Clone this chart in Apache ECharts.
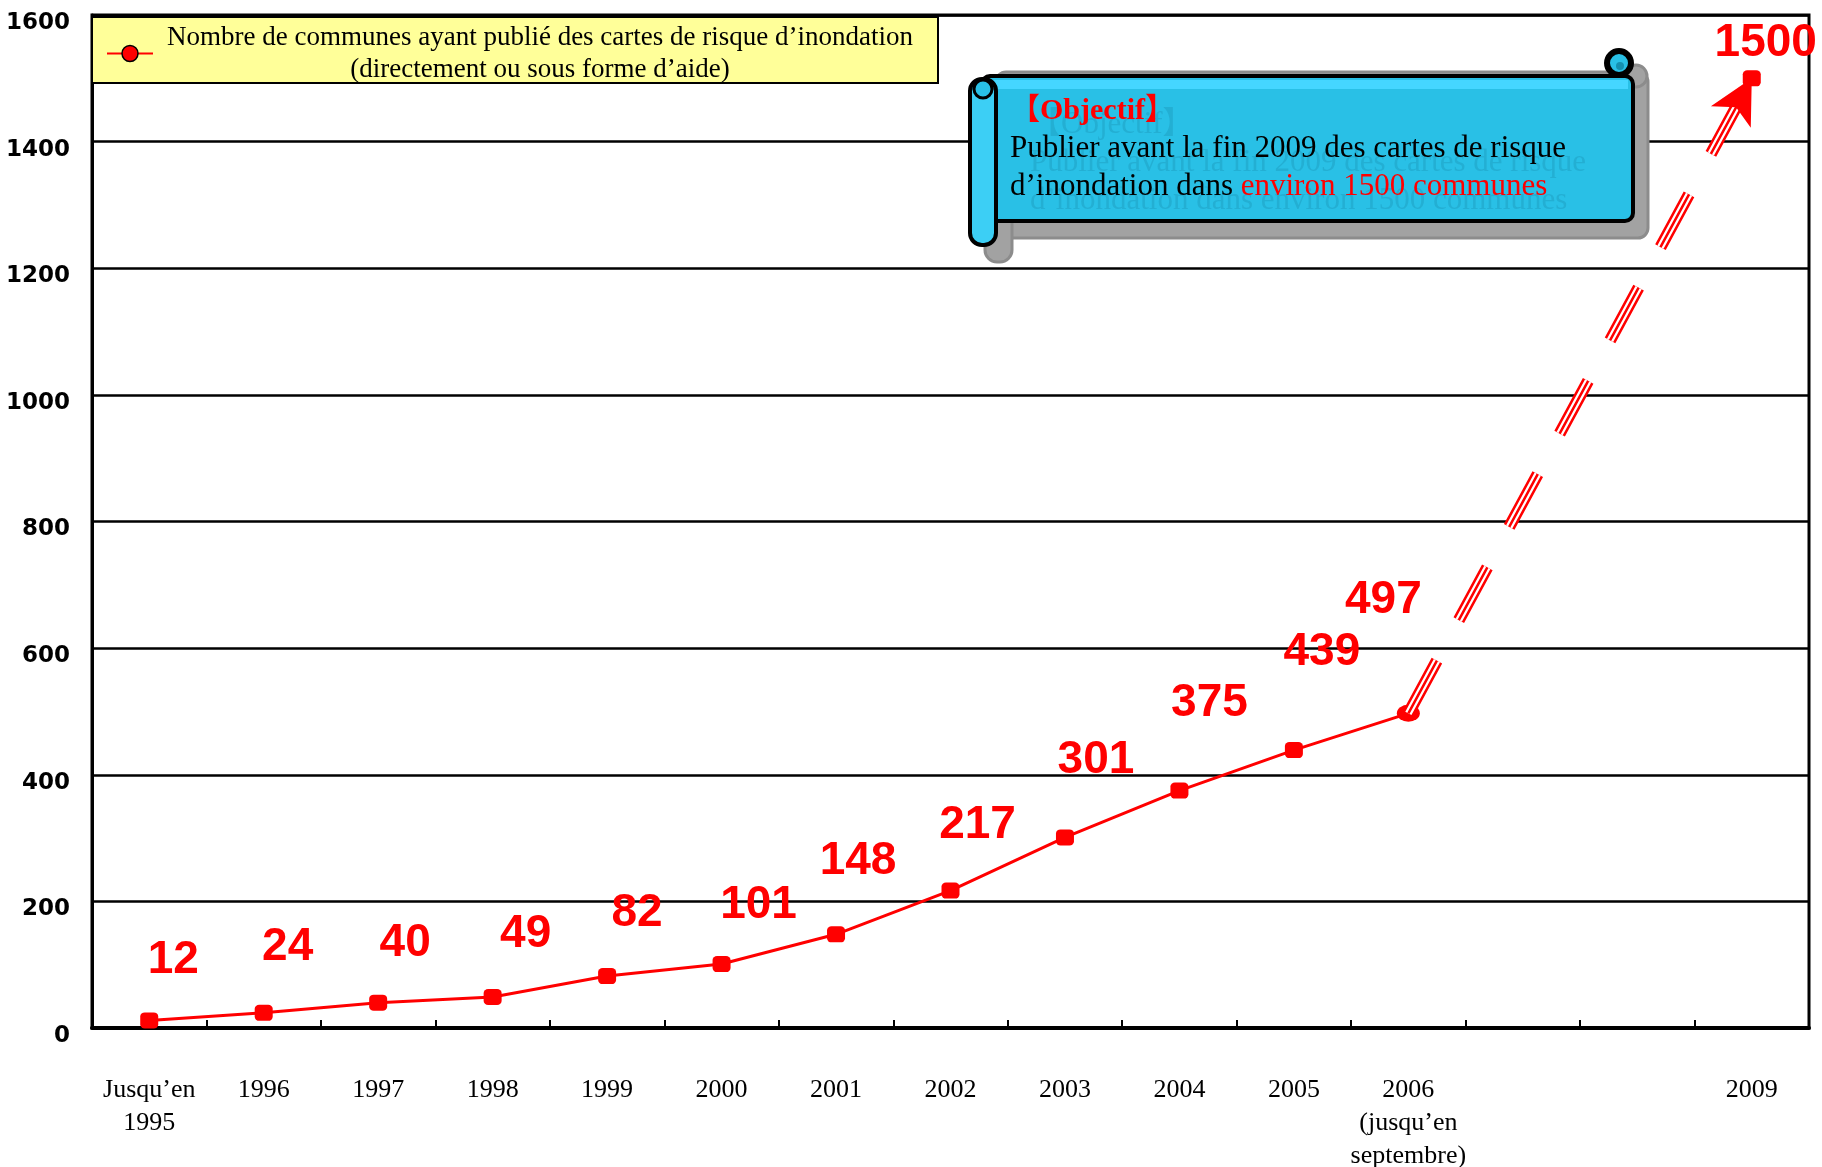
<!DOCTYPE html>
<html>
<head>
<meta charset="utf-8">
<title>Communes - cartes de risque d'inondation</title>
<script src="https://cdn.jsdelivr.net/npm/echarts@6/dist/echarts.min.js"></script>
<style>
  html, body { margin: 0; padding: 0; background: #fff; }
  #chart { width: 1822px; height: 1167px; }
</style>
</head>
<body>
<div id="chart"></div>
<script>
  // data
  var years = ['1995', '1996', '1997', '1998', '1999', '2000', '2001', '2002',
    '2003', '2004', '2005', '2006', '2007', '2008', '2009']
  var tickLabels = ['Jusqu’en\n1995', '1996', '1997', '1998', '1999', '2000', '2001', '2002',
    '2003', '2004', '2005', '2006\n(jusqu’en\nseptembre)', '', '', '2009']
  var communes = [12, 24, 40, 49, 82, 101, 148, 217, 301, 375, 439, 497, null, null, 1500]
  var objectifYears = ['2006', '2009']
  var seriesName = 'Nombre de communes ayant publié des cartes de risque d’inondation\n(directement ou sous forme d’aide)'

  // label shifts (px) so the numbers sit where they do in the original
  var labelShift = [[24, -60], [24, -65], [27, -59], [33, -63], [30, -63], [37, -59], [22, -73],
    [27, -65], [31, -77], [30, -87], [28, -98], [-25, -113], [0, 0], [0, 0], [14, -35]]

  var red = '#FF0000'
  var serif = "'Liberation Serif', 'Times New Roman', serif"

  var startIdx = years.indexOf(objectifYears[0])
  var endIdx = years.indexOf(objectifYears[1])
  var arrowCoords = [
    { coord: [objectifYears[0], communes[startIdx]] },
    { coord: [objectifYears[1], communes[endIdx]] }
  ]
  var dash = [60, 46]

  function arrowLayer (color, width, withArrow) {
    return {
      type: 'line',
      data: [],
      silent: true,
      z: 3,
      markLine: {
        silent: true,
        animation: false,
        symbol: withArrow ? ['none', 'arrow'] : ['none', 'none'],
        symbolSize: [34, 44],
        label: { show: false },
        lineStyle: { color: color, width: width, type: withArrow ? [0, 5000] : dash, opacity: 1 },
        data: [arrowCoords]
      }
    }
  }

  var mainData = communes.map(function (v, i) {
    if (v == null) return null
    return {
      value: v,
      symbol: i === startIdx ? 'circle' : 'roundRect',
      symbolSize: i === startIdx ? [23, 17] : [18, 16],
      label: { offset: labelShift[i] }
    }
  })

  var option = {
    animation: false,
    grid: {
      left: 92, right: 13, top: 15, bottom: 139,
      outerBoundsMode: 'none',
      containLabel: false,
      show: true, borderColor: '#000', borderWidth: 3
    },
    legend: {
      data: [seriesName],
      left: 92, top: 17,
      orient: 'vertical',
      backgroundColor: '#FFFF99',
      borderColor: '#000',
      borderWidth: 2,
      borderRadius: 0,
      padding: [7, 16, 0, 14],
      itemWidth: 46,
      itemHeight: 20,
      itemStyle: { borderColor: '#000', borderWidth: 1.5 },
      formatter: function (name) {
        return name.split('\n').map(function (s) { return '{a|' + s + '}' }).join('\n')
      },
      textStyle: {
        rich: {
          a: { width: 764, align: 'center', fontFamily: serif, fontSize: 27, lineHeight: 32, color: '#000' }
        }
      }
    },
    xAxis: {
      type: 'category',
      data: years,
      boundaryGap: true,
      axisLine: { lineStyle: { color: '#000', width: 4 } },
      axisTick: { show: true, inside: true, length: 8, interval: 0, lineStyle: { color: '#000', width: 2 } },
      axisLabel: {
        interval: 0,
        margin: 46,
        fontFamily: serif,
        fontSize: 26,
        lineHeight: 33,
        color: '#000',
        formatter: function (v, i) { return tickLabels[i] }
      },
      splitLine: { show: false }
    },
    yAxis: {
      type: 'value',
      min: 0, max: 1600, interval: 200,
      axisLine: { show: true, lineStyle: { color: '#000', width: 3 } },
      axisTick: { show: false },
      axisLabel: {
        margin: 22,
        verticalAlign: 'top',
        lineHeight: 16,
        fontFamily: "'DejaVu Sans', sans-serif",
        fontWeight: 'bold',
        fontSize: 23,
        color: '#000',
        formatter: function (v) { return String(v) }
      },
      splitLine: { lineStyle: { color: '#000', width: 2.5 } }
    },
    series: [
      arrowLayer(red, 12, false),
      arrowLayer('#fff', 7, false),
      arrowLayer(red, 2.5, false),
      {
        name: seriesName,
        type: 'line',
        data: mainData,
        symbol: 'circle',
        symbolSize: 16,
        connectNulls: false,
        z: 4,
        itemStyle: { color: red },
        lineStyle: { color: red, width: 3 },
        label: {
          show: true,
          position: 'inside',
          color: red,
          fontFamily: "'Liberation Sans', Arial, sans-serif",
          fontWeight: 'bold',
          fontSize: 46
        }
      },
      arrowLayer(red, 2, true)
    ],
    graphic: [
      // scroll shadow
      { type: 'rect', z: 100, shape: { x: 996, y: 72, width: 652, height: 166, r: 10 },
        style: { fill: '#A2A2A2', stroke: '#8C8C8C', lineWidth: 3 } },
      { type: 'rect', z: 100, shape: { x: 985, y: 200, width: 27, height: 62, r: 12 },
        style: { fill: '#A2A2A2', stroke: '#8C8C8C', lineWidth: 3 } },
      { type: 'circle', z: 100, shape: { cx: 1636, cy: 76, r: 11 },
        style: { fill: '#A2A2A2', stroke: '#8C8C8C', lineWidth: 3 } },
      // scroll body
      { type: 'rect', z: 101, shape: { x: 982, y: 76, width: 651, height: 145, r: 8 },
        style: { fill: '#29C0E6', stroke: '#000', lineWidth: 4 } },
      { type: 'rect', z: 101, shape: { x: 992, y: 80, width: 636, height: 9 },
        style: { fill: '#45D6FF' } },
      { type: 'circle', z: 101, shape: { cx: 1619, cy: 63, r: 12 },
        style: { fill: '#29C0E6', stroke: '#000', lineWidth: 6 } },
      { type: 'circle', z: 102, shape: { cx: 1620, cy: 66, r: 4 },
        style: { fill: '#1590B0' } },
      // left roll
      { type: 'rect', z: 102, shape: { x: 970, y: 79, width: 26, height: 166, r: 12 },
        style: { fill: '#3CCFF5', stroke: '#000', lineWidth: 4 } },
      { type: 'circle', z: 103, shape: { cx: 983, cy: 89, r: 9 },
        style: { fill: '#29C0E6', stroke: '#000', lineWidth: 3 } },
      // faint echo of the text
      { type: 'text', z: 103, x: 1030, y: 106,
        style: {
          text: '{t|【Objectif】}\n{t|Publier avant la fin 2009 des cartes de risque}\n{t|d’inondation dans environ 1500 communes}',
          rich: { t: { fontFamily: serif + ", 'Noto Sans CJK JP'", fontSize: 31, lineHeight: 38, fill: 'rgba(0,70,100,0.14)' } }
        } },
      { type: 'text', z: 104, x: 1010, y: 92,
        style: {
          text: '{o|【Objectif】}\n{t|Publier avant la fin 2009 des cartes de risque}\n{t|d’inondation dans }{r|environ 1500 communes}',
          rich: {
            o: { fontFamily: serif + ", 'Noto Sans CJK JP'", fontWeight: 'bold', fontSize: 30, lineHeight: 38, fill: red },
            t: { fontFamily: serif, fontSize: 31, lineHeight: 38, fill: '#000' },
            r: { fontFamily: serif, fontSize: 31, lineHeight: 38, fill: red }
          }
        } }
    ]
  }

  var chart = echarts.init(document.getElementById('chart'))
  chart.setOption(option)
  window.addEventListener('resize', function () {
    chart.resize()
  })
</script>
</body>
</html>
